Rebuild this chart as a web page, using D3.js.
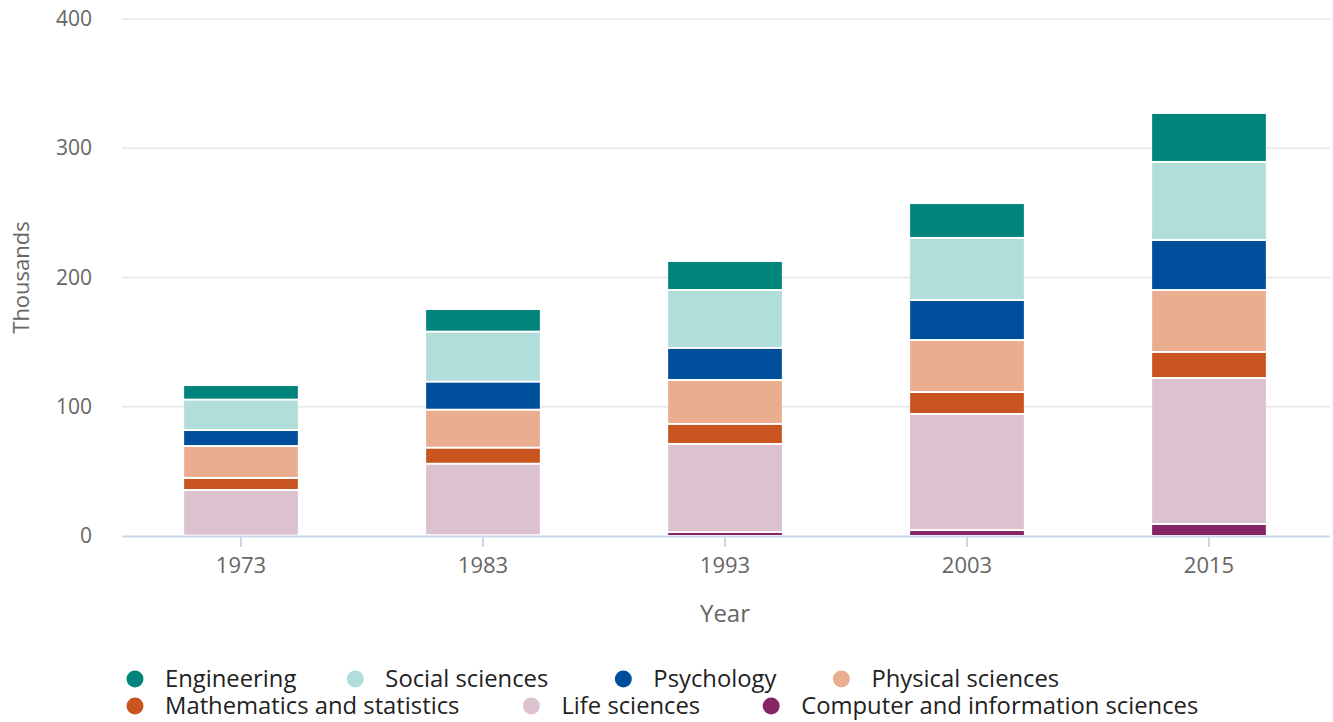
<!DOCTYPE html>
<html>
<head>
<meta charset="utf-8">
<script src="https://cdn.jsdelivr.net/npm/d3@7"></script>
<style>
  body { margin: 0; background: #fff; }
  svg { font-family: "Open Sans", sans-serif; }
</style>
</head>
<body>
<svg width="1333" height="722"></svg>
<script>
// data (thousands)
var years = ['1973', '1983', '1993', '2003', '2015'];
var series = ['Computer and information sciences', 'Life sciences', 'Mathematics and statistics',
  'Physical sciences', 'Psychology', 'Social sciences', 'Engineering'];
var computer  = [0.3, 0.6, 3.1, 4.6, 9.3];
var life      = [35.3, 55.3, 68.1, 89.8, 112.9];
var math      = [9.3, 12.4, 15.5, 17.0, 20.2];
var physical  = [24.7, 29.4, 34.0, 40.2, 47.9];
var psychology = [12.4, 21.7, 24.8, 31.0, 38.7];
var social    = [23.5, 38.7, 44.8, 48.0, 60.4];
var engineering = [11.3, 17.5, 22.5, 27.0, 37.9];
var yTicks = [0, 100, 200, 300, 400];

var colors = {
  'Engineering': '#00847c',
  'Social sciences': '#b1ddda',
  'Psychology': '#004f9c',
  'Physical sciences': '#ebad90',
  'Mathematics and statistics': '#c8541f',
  'Life sciences': '#dcc1ce',
  'Computer and information sciences': '#862565'
};
var legendOrder = ['Engineering', 'Social sciences', 'Psychology', 'Physical sciences',
  'Mathematics and statistics', 'Life sciences', 'Computer and information sciences'];

var values = [computer, life, math, physical, psychology, social, engineering];
var rows = years.map(function(y, i) {
  var r = { year: y };
  series.forEach(function(s, k) { r[s] = values[k][i]; });
  return r;
});

var svg = d3.select('svg');
var plotLeft = 120, plotRight = 1330, plotTop = 19, plotBottom = 536;

var x = d3.scaleBand().domain(years).range([plotLeft, plotRight]).paddingInner(0.53).paddingOuter(0.265);
var y = d3.scaleLinear().domain([0, 400]).range([plotBottom, plotTop]);

// grid
svg.append('g').selectAll('line')
  .data(yTicks.slice(1))
  .enter().append('line')
  .attr('x1', plotLeft + 2).attr('x2', plotRight)
  .attr('y1', function(d) { return y(d); }).attr('y2', function(d) { return y(d); })
  .attr('stroke', '#e6e6e6').attr('stroke-width', 1.5);

// y labels
svg.append('g').selectAll('text')
  .data(yTicks)
  .enter().append('text')
  .attr('x', 92).attr('y', function(d) { return y(d) + 7; })
  .attr('text-anchor', 'end')
  .attr('font-size', 21).attr('fill', '#666')
  .text(function(d) { return d; });

svg.append('text')
  .attr('transform', 'translate(29,' + ((plotTop + plotBottom) / 2) + ') rotate(-90)')
  .attr('text-anchor', 'middle')
  .attr('font-size', 22).attr('fill', '#666')
  .text('Thousands');

// stacked bars
var stack = d3.stack().keys(series)(rows);
svg.append('g').selectAll('g')
  .data(stack)
  .enter().append('g')
  .attr('fill', function(d) { return colors[d.key]; })
  .selectAll('rect')
  .data(function(d) { return d; })
  .enter().append('rect')
  .attr('x', function(d) { return x(d.data.year); })
  .attr('width', x.bandwidth())
  .attr('y', function(d) { return y(d[1]); })
  .attr('height', function(d) { return Math.max(0, y(d[0]) - y(d[1]) - 2); })
  .attr('transform', 'translate(0,1)');

// x axis
var xAxis = svg.append('g');
xAxis.append('line')
  .attr('x1', plotLeft + 2).attr('x2', plotRight)
  .attr('y1', plotBottom + 0.5).attr('y2', plotBottom + 0.5)
  .attr('stroke', '#ccd6eb').attr('stroke-width', 2);
xAxis.selectAll('.tick')
  .data(years)
  .enter().append('line')
  .attr('x1', function(d) { return x(d) + x.bandwidth() / 2; })
  .attr('x2', function(d) { return x(d) + x.bandwidth() / 2; })
  .attr('y1', plotBottom).attr('y2', plotBottom + 11)
  .attr('stroke', '#ccd6eb').attr('stroke-width', 2);
xAxis.selectAll('text')
  .data(years)
  .enter().append('text')
  .attr('x', function(d) { return x(d) + x.bandwidth() / 2; })
  .attr('y', 573)
  .attr('text-anchor', 'middle')
  .attr('font-size', 22).attr('fill', '#666')
  .text(function(d) { return d; });

svg.append('text')
  .attr('x', 725).attr('y', 622)
  .attr('text-anchor', 'middle')
  .attr('font-size', 24).attr('fill', '#666')
  .text('Year');

// legend, flowing in two rows
var legendRows = [legendOrder.slice(0, 4), legendOrder.slice(4)];
var gaps = [[0, 51, 67, 57], [0, 64, 63]];
legendRows.forEach(function(row, ri) {
  var cx = 135, cy = 679 + ri * 27;
  row.forEach(function(name, k) {
    cx += gaps[ri][k];
    var g = svg.append('g').attr('transform', 'translate(' + cx + ',' + cy + ')');
    g.append('circle').attr('r', 8.5).attr('fill', colors[name]);
    var t = g.append('text')
      .attr('x', 30).attr('y', 8)
      .attr('font-size', 23.8).attr('fill', '#222')
      .text(name);
    cx += 30 + t.node().getComputedTextLength() + 8;
  });
});
</script>
</body>
</html>
